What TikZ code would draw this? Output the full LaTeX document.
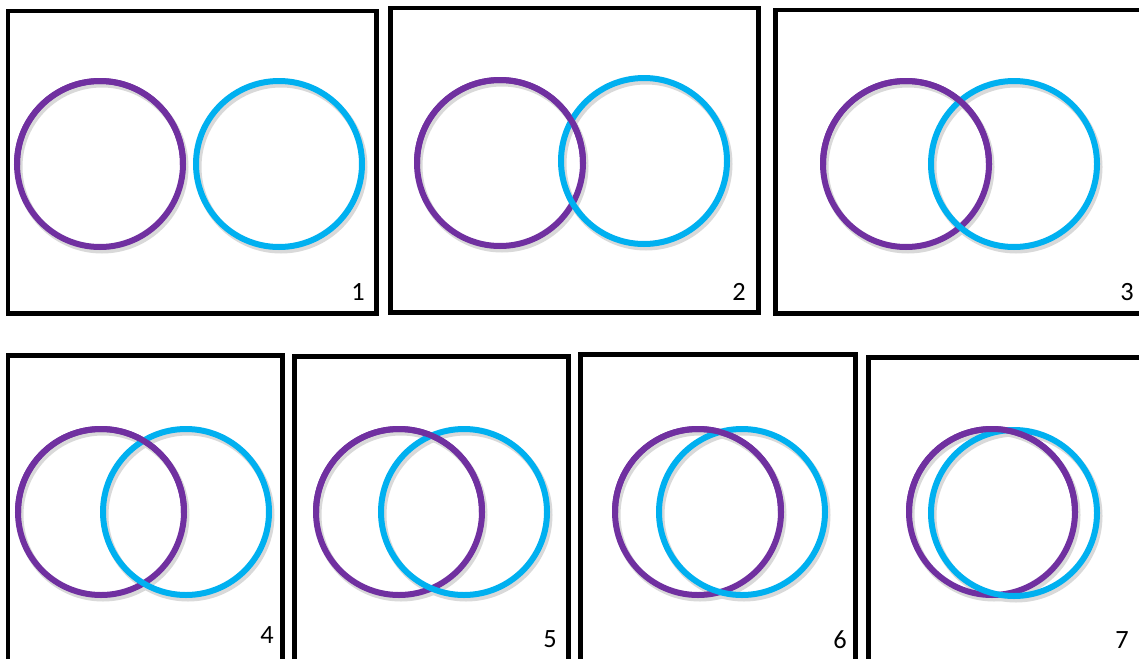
\documentclass[tikz,border=0pt]{standalone}
\usepackage{fontspec}
\setmainfont{Carlito}
\usetikzlibrary{positioning}

\definecolor{ringpurple}{HTML}{7030A0}
\definecolor{ringblue}{HTML}{00B0F0}

\tikzset{
  panel/.style={draw=black, line width=0.1cm},
  ring/.style={line width=0.12cm},
  ringshadow/.style={draw=black!15, line width=0.14cm},
  number/.style={font=\fontsize{15}{17}\selectfont, inner sep=0pt}
}

\begin{document}
\begin{tikzpicture}[x=0.02cm, y=-0.02cm]
        % Page
        \useasboundingbox (0,0) rectangle (1139,659);
        \clip (0,0) rectangle (1139,659);
        \fill[white] (0,0) rectangle (1139,659);

        % Panels: number / box corners / purple centre / blue centre / label
        \foreach \n/\xa/\ya/\xb/\yb/\px/\py/\bx/\by/\lx/\ly in {
            1/8/11/376/313/100/164/279/164/358/292,
            2/390/8/758/312/500/163/644/161/739/292,
            3/775/10/1150/313/906/164/1014/164/1127/292,
            4/8/355/282/670/101/512/186/512/267/635,
            5/294/356/568/670/399/512/464/512/550/639,
            6/580/354/855/670/698/512/742/512/840/640,
            7/868/357/1150/670/992/512/1014/513/1122/640} {
          % Box
          \draw[panel] (\xa,\ya) rectangle (\xb,\yb);

          % Shadows
          \draw[ringshadow] (\px+2,\py+3) circle (83);
          \draw[ringshadow] (\bx+2,\by+3) circle (83);

          % Rings, purple passes over blue at the top
          \draw[ring, ringpurple] (\px,\py) circle (83);
          \draw[ring, ringblue] (\bx,\by) circle (83);
          \begin{scope}
            \clip (\px-100,\py-100) rectangle (\px+100,\py);
            \draw[ring, ringpurple] (\px,\py) circle (83);
          \end{scope}

          % Number
          \node[number] (num\n) at (\lx,\ly) {\n};
        }
      \end{tikzpicture}
\end{document}
